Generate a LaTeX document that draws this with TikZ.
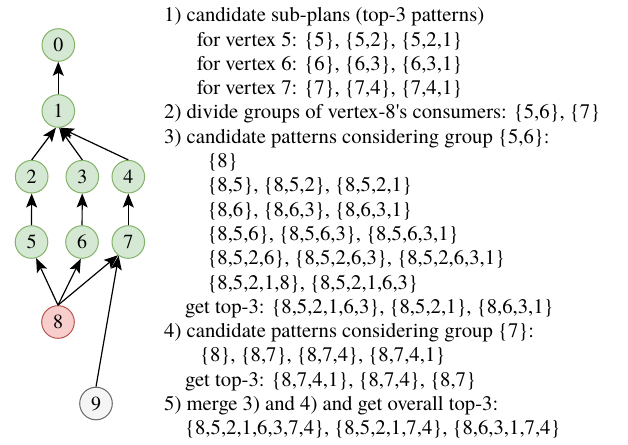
\documentclass[tikz,border=0pt]{standalone}
\usepackage{fontspec}
\setmainfont{TeX Gyre Termes}
\usetikzlibrary{arrows.meta}
\definecolor{gfill}{HTML}{D5E8D4}
\definecolor{gline}{HTML}{82B366}
\definecolor{rfill}{HTML}{F8CECC}
\definecolor{rline}{HTML}{B85450}
\definecolor{wfill}{HTML}{F5F5F5}
\definecolor{wline}{HTML}{666666}
\tikzset{
  vtx/.style={circle,minimum size=32.6pt,inner sep=0pt,line width=1pt,font=\fontsize{20}{24}\selectfont},
  gv/.style={vtx,draw=gline,fill=gfill},
  rv/.style={vtx,draw=rline,fill=rfill},
  wv/.style={vtx,draw=wline,fill=wfill},
  arr/.style={line width=1.2pt,-{Stealth[length=14pt,width=11pt,inset=3pt]}},
  txt/.style={anchor=base west,inner sep=0pt,font=\fontsize{20.7}{24.3}\selectfont}}
\begin{document}
\begin{tikzpicture}[x=1pt,y=-1pt]
\useasboundingbox (0,0) rectangle (628,444);
% vertices
\node[gv] (n0) at (58.3,45) {0};
\node[gv] (n1) at (58.3,111) {1};
\node[gv] (n2) at (31.7,176.7) {2};
\node[gv] (n3) at (82.3,176.7) {3};
\node[gv] (n4) at (128.3,176.7) {4};
\node[gv] (n5) at (31.5,242) {5};
\node[gv] (n6) at (82,242) {6};
\node[gv] (n7) at (128.3,242) {7};
\node[rv] (n8) at (58,322) {8};
\node[wv] (n9) at (96,403.5) {9};
% edges
\draw[arr] (n1) -- (n0);
\draw[arr] (n2.north) -- (n1.262);
\draw[arr] (n3.north) -- (n1.273);
\draw[arr] (n4.north) -- (n1.276);
\draw[arr] (n5) -- (n2);
\draw[arr] (n6) -- (n3);
\draw[arr] (n7) -- (n4);
\draw[arr] (n8.north) -- (n5.286);
\draw[arr] (n8.north) -- (n6.266);
\draw[arr] (n8.north) -- (n7.232);
\draw[arr] (n9.north) -- (n7.235);
% text
\node[txt] (t1) at (164,21.7) {1) candidate sub-plans (top-3 patterns)};
\node[txt] (t2) at (196.7,46.0) {for vertex 5: \{5\}, \{5,2\}, \{5,2,1\}};
\node[txt] (t3) at (196.7,70.3) {for vertex 6: \{6\}, \{6,3\}, \{6,3,1\}};
\node[txt] (t4) at (196.7,94.6) {for vertex 7: \{7\}, \{7,4\}, \{7,4,1\}};
\node[txt] (t5) at (164,118.9) {2) divide groups of vertex-8\textquotesingle s consumers: \{5,6\}, \{7\}};
\node[txt] (t6) at (164,143.2) {3) candidate patterns considering group \{5,6\}:};
\node[txt] (t7) at (207.3,167.5) {\{8\}};
\node[txt] (t8) at (207.3,191.8) {\{8,5\}, \{8,5,2\}, \{8,5,2,1\}};
\node[txt] (t9) at (207.3,216.1) {\{8,6\}, \{8,6,3\}, \{8,6,3,1\}};
\node[txt] (t10) at (207.3,240.4) {\{8,5,6\}, \{8,5,6,3\}, \{8,5,6,3,1\}};
\node[txt] (t11) at (207.3,264.7) {\{8,5,2,6\}, \{8,5,2,6,3\}, \{8,5,2,6,3,1\}};
\node[txt] (t12) at (207.3,289.0) {\{8,5,2,1,8\}, \{8,5,2,1,6,3\}};
\node[txt] (t13) at (185,313.3) {get top-3: \{8,5,2,1,6,3\}, \{8,5,2,1\}, \{8,6,3,1\}};
\node[txt] (t14) at (164,337.6) {4) candidate patterns considering group \{7\}:};
\node[txt] (t15) at (200,361.9) {\{8\}, \{8,7\}, \{8,7,4\}, \{8,7,4,1\}};
\node[txt] (t16) at (185,386.2) {get top-3: \{8,7,4,1\}, \{8,7,4\}, \{8,7\}};
\node[txt] (t17) at (164,410.5) {5) merge 3) and 4) and get overall top-3:};
\node[txt] (t18) at (185,434.8) {\{8,5,2,1,6,3,7,4\}, \{8,5,2,1,7,4\}, \{8,6,3,1,7,4\}};
\end{tikzpicture}
\end{document}
